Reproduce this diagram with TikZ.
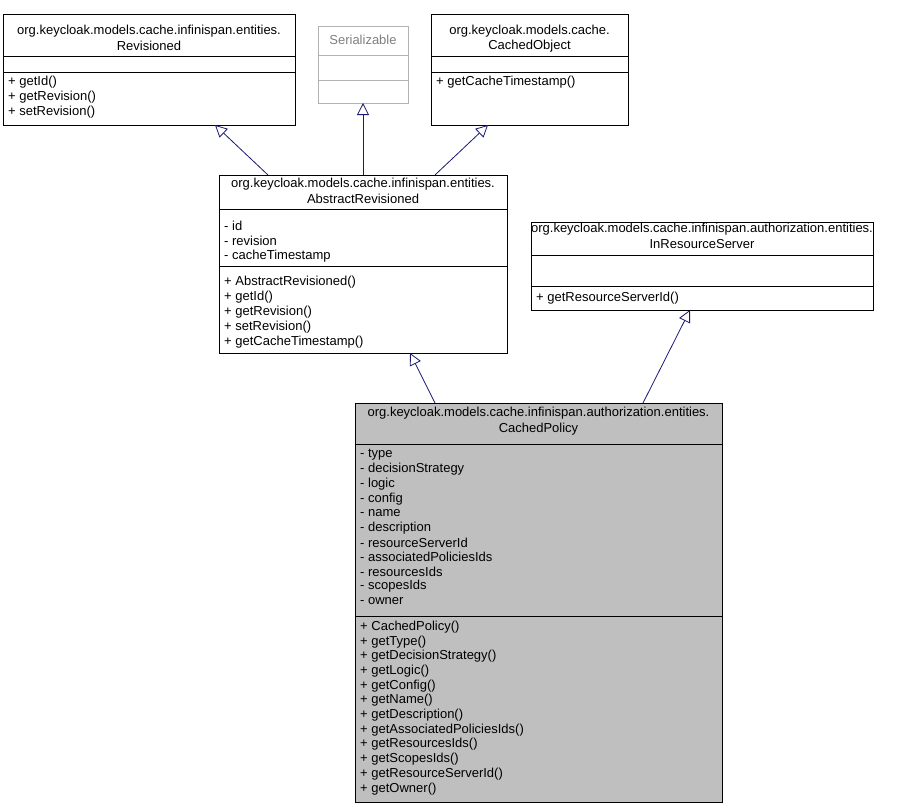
\documentclass[tikz,border=0pt]{standalone}
\usepackage{fontspec}
\setmainfont{Liberation Sans}
\usetikzlibrary{arrows.meta}
\begin{document}
\begin{tikzpicture}[x=1pt,y=-1pt,
  every node/.style={font=\fontsize{13}{15}\selectfont, inner sep=0pt},
  cls/.style={draw=black, line width=0.8pt},
  txt/.style={anchor=west},
  ttl/.style={anchor=center},
  inh/.style={draw={rgb,255:red,25;green,25;blue,112}, line width=0.8pt, -{Triangle[open,length=12pt,width=12pt]}}]
\useasboundingbox[fill=white] (0,0) rectangle (904,808);
% Revisioned
\node[cls, minimum width=292pt, minimum height=111pt] (rev) at (149,69.5) {};
\draw (3,56)--(295,56) (3,72)--(295,72);
\node[ttl] (revt1) at (149,31) {org.keycloak.models.cache.infinispan.entities.};
\node[ttl] (revt2) at (149,46) {Revisioned};
\node[txt] (revm1) at (8,82) {+ getId()};
\node[txt] (revm2) at (8,97) {+ getRevision()};
\node[txt] (revm3) at (8,112) {+ setRevision()};
% Serializable
\node[draw=gray!60, line width=0.8pt, minimum width=90pt, minimum height=77pt] (ser) at (363,64.5) {};
\draw[gray!60] (318,55)--(408,55) (318,80)--(408,80);
\node[ttl,text=gray] (sert) at (363,40) {Serializable};
% CachedObject
\node[cls, minimum width=197pt, minimum height=111pt] (co) at (529.5,69.5) {};
\draw (431,56)--(628,56) (431,72)--(628,72);
\node[ttl] (cot1) at (529.5,31) {org.keycloak.models.cache.};
\node[ttl] (cot2) at (529.5,46) {CachedObject};
\node[txt] (com1) at (436,82) {+ getCacheTimestamp()};
% AbstractRevisioned
\node[cls, minimum width=288pt, minimum height=178pt] (ar) at (363,264) {};
\draw (219,209)--(507,209) (219,266)--(507,266);
\node[ttl] (art1) at (363,184) {org.keycloak.models.cache.infinispan.entities.};
\node[ttl] (art2) at (363,199) {AbstractRevisioned};
\foreach \t [count=\i] in {- id,- revision,- cacheTimestamp}
  \node[txt] (ara\i) at (224,211+15*\i) {\t};
\foreach \t [count=\i] in {+ AbstractRevisioned(),+ getId(),+ getRevision(),+ setRevision(),+ getCacheTimestamp()}
  \node[txt] (arm\i) at (224,267+15*\i) {\t};
% InResourceServer
\node[cls, minimum width=342pt, minimum height=88pt] (irs) at (702,266) {};
\draw (531,255)--(873,255) (531,286)--(873,286);
\node[ttl] (irst1) at (702,229) {org.keycloak.models.cache.infinispan.authorization.entities.};
\node[ttl] (irst2) at (702,244) {InResourceServer};
\node[txt] (irsm1) at (536,298) {+ getResourceServerId()};
% CachedPolicy
\node[cls, fill={rgb,255:red,191;green,191;blue,191}, minimum width=367pt, minimum height=399pt] (cp) at (538.5,602.5) {};
\draw (355,444)--(722,444) (355,616)--(722,616);
\node[ttl] (cpt1) at (538.5,413) {org.keycloak.models.cache.infinispan.authorization.entities.};
\node[ttl] (cpt2) at (538.5,429) {CachedPolicy};
\foreach \t [count=\i] in {- type,- decisionStrategy,- logic,- config,- name,- description,- resourceServerId,- associatedPoliciesIds,- resourcesIds,- scopesIds,- owner}
  \node[txt] (cpa\i) at (360,440.4+14.6*\i) {\t};
\foreach \t [count=\i] in {+ CachedPolicy(),+ getType(),+ getDecisionStrategy(),+ getLogic(),+ getConfig(),+ getName(),+ getDescription(),+ getAssociatedPoliciesIds(),+ getResourcesIds(),+ getScopesIds(),+ getResourceServerId(),+ getOwner()}
  \node[txt] (cpm\i) at (360,612.3+14.7*\i) {\t};
% connector ends
\coordinate (a1) at (268,175); \coordinate (b1) at (215,125);
\coordinate (a2) at (363,175); \coordinate (b2) at (363,103);
\coordinate (a3) at (435,175); \coordinate (b3) at (488,125);
\coordinate (a4) at (435,403); \coordinate (b4) at (410,353);
\coordinate (a5) at (643,403); \coordinate (b5) at (690,310);
\draw[inh] (a1)--(b1);
\draw[inh] (a2)--(b2);
\draw[inh] (a3)--(b3);
\draw[inh] (a4)--(b4);
\draw[inh] (a5)--(b5);
\end{tikzpicture}
\end{document}
